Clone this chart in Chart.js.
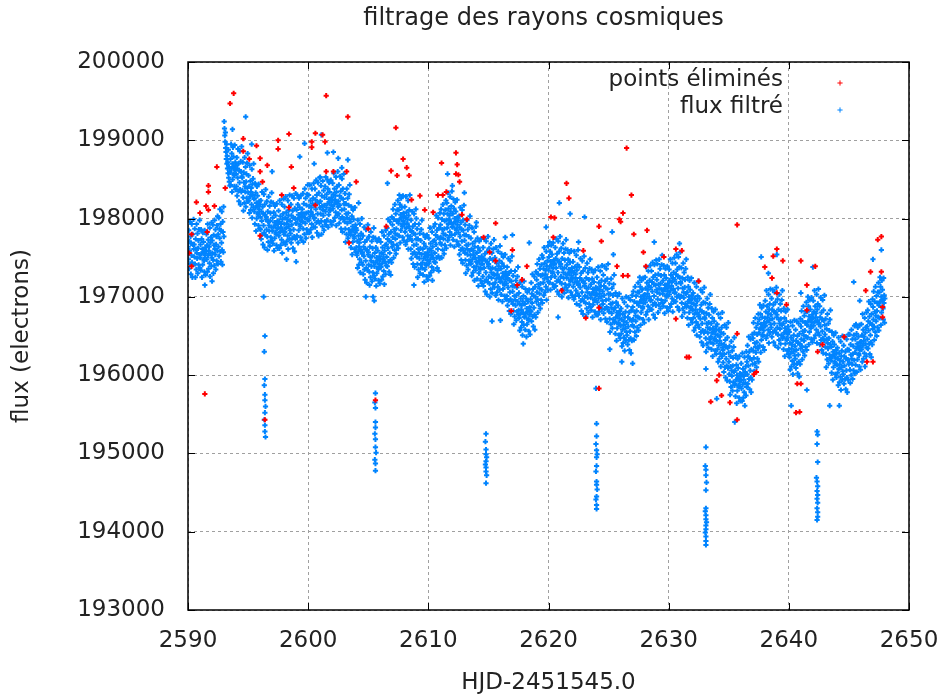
<!DOCTYPE html>
<html>
<head>
<meta charset="utf-8">
<title>filtrage des rayons cosmiques</title>
<script src="https://cdn.jsdelivr.net/npm/chart.js@4.4.1/dist/chart.umd.min.js"></script>
<style>
  html, body { margin: 0; padding: 0; background: #fff; }
  canvas { display: block; }
</style>
</head>
<body>
<canvas id="fluxChart" width="942" height="695"></canvas>
<script>
// axes: days (HJD-2451545.0) and flux in electrons
const xTicks = [2590, 2600, 2610, 2620, 2630, 2640, 2650];
const yTicks = [193000, 194000, 195000, 196000, 197000, 198000, 199000, 200000];

const seriesNames = ['points éliminés', 'flux filtré'];

// filtered flux, one row per half day: [start day, values in time order]
const fluxRows = [
  [2590.0, [197640,197480,197850,197360,197710,197590,197960,197420,197770,197290,197680,197530,197930,197440,197250,197800,197670,197410,197990,197610]],
  [2590.5, [197670,197510,197870,197420,197250,197740,197610,197350,197930,197560,197490,197810,197300,197620,197720,197410,197860,197540,197980,197370]],
  [2591.0, [197500,197670,197340,197860,197550,197740,197250,197610,197410,197820,197570,197700,197480,197460,197320,197850,197530,197630,197280,197590]],
  [2591.5, [197580,197800,197480,197660,197320,197930,197530,197730,197360,197590,197640,197430,197880,197260,197690,197550,197760,197390,197950,197500]],
  [2592.0, [197720,197560,197920,197470,197300,197790,197660,197400,197980,197610,197540,197860,197350,197670,197770,197460,197910,197590,198030,197420]],
  [2592.5, [197800,197640,198010,197520,197870,197750,198120,197580,197930,197450,197840,197690,198090,197600,197410,197960,197830,197570,198150,197770]],
  [2593.0, [199240,199150,199060,198980,199100,198900,198850,198760,198950,198700,198800,198640,198720,198580,198880,198520,198660,198470,198600,198420]],
  [2593.5, [198590,198760,198430,198950,198640,198830,198340,198700,198500,198910,198660,198790,198570,198550,198410,198940,198620,198720,198370,198680]],
  [2594.0, [198570,198410,198780,198290,198640,198520,198890,198350,198700,198220,198610,198460,198860,198370,198180,198730,198600,198340,198920,198540]],
  [2594.5, [198520,198360,198720,198270,198100,198590,198460,198200,198780,198410,198340,198660,198150,198470,198570,198260,198710,198390,198830,198220]],
  [2595.0, [198330,198550,198230,198410,198070,198680,198280,198480,198110,198340,198390,198180,198630,198010,198440,198300,198510,198140,198700,198250]],
  [2595.5, [198090,198260,197930,198450,198140,198330,197840,198200,198000,198410,198160,198290,198070,198050,197910,198440,198120,198220,197870,198180]],
  [2596.0, [198020,197860,198230,197740,198090,197970,198340,197800,198150,197670,198060,197910,198310,197820,197630,198180,198050,197790,198370,197990]],
  [2596.5, [198020,197860,198220,197770,197600,198090,197960,197700,198280,197910,197840,198160,197650,197970,198070,197760,198210,197890,198330,197720]],
  [2597.0, [197840,198010,197680,198200,197890,198080,197590,197950,197750,198160,197910,198040,197820,197800,197660,198190,197870,197970,197620,197930]],
  [2597.5, [197880,198100,197780,197960,197620,198230,197830,198030,197660,197890,197940,197730,198180,197560,197990,197850,198060,197690,198250,197800]],
  [2598.0, [197930,198150,197830,198010,197670,198280,197880,198080,197710,197940,197990,197780,198230,197610,198040,197900,198110,197740,198300,197850]],
  [2598.5, [197970,197810,198180,197690,198040,197920,198290,197750,198100,197620,198010,197860,198260,197770,197580,198130,198000,197740,198320,197940]],
  [2599.0, [197940,198110,197780,198300,197990,198180,197690,198050,197850,198260,198010,198140,197920,197900,197760,198290,197970,198070,197720,198030]],
  [2599.5, [198120,197960,198320,197870,197700,198190,198060,197800,198380,198010,197940,198260,197750,198070,198170,197860,198310,197990,198430,197820]],
  [2600.0, [198080,198300,197980,198160,197820,198430,198030,198230,197860,198090,198140,197930,198380,197760,198190,198050,198260,197890,198450,198000]],
  [2600.5, [198170,198010,198380,197890,198240,198120,198490,197950,198300,197820,198210,198060,198460,197970,197780,198330,198200,197940,198520,198140]],
  [2601.0, [198220,198060,198420,197970,197800,198290,198160,197900,198480,198110,198040,198360,197850,198170,198270,197960,198410,198090,198530,197920]],
  [2601.5, [198140,198310,197980,198500,198190,198380,197890,198250,198050,198460,198210,198340,198120,198100,197960,198490,198170,198270,197920,198230]],
  [2602.0, [198230,198450,198130,198310,197970,198580,198180,198380,198010,198240,198290,198080,198530,197910,198340,198200,198410,198040,198600,198150]],
  [2602.5, [198220,198060,198430,197940,198290,198170,198540,198000,198350,197870,198260,198110,198510,198020,197830,198380,198250,197990,198570,198190]],
  [2603.0, [198120,197960,198320,197870,197700,198190,198060,197800,198380,198010,197940,198260,197750,198070,198170,197860,198310,197990,198430,197820]],
  [2603.5, [197790,197960,197630,198150,197840,198030,197540,197900,197700,198110,197860,197990,197770,197750,197610,198140,197820,197920,197570,197880]],
  [2604.0, [197630,197850,197530,197710,197370,197980,197580,197780,197410,197640,197690,197480,197930,197310,197740,197600,197810,197440,198000,197550]],
  [2604.5, [197570,197410,197780,197290,197640,197520,197890,197350,197700,197220,197610,197460,197860,197370,197180,197730,197600,197340,197920,197540]],
  [2605.0, [197570,197410,197770,197320,197150,197640,197510,197250,197830,197460,197390,197710,197200,197520,197620,197310,197760,197440,197880,197270]],
  [2605.5, [197390,197560,197230,197750,197440,197630,197140,197500,197300,197710,197460,197590,197370,197350,197210,197740,197420,197520,197170,197480]],
  [2606.0, [197480,197700,197380,197560,197220,197830,197430,197630,197260,197490,197540,197330,197780,197160,197590,197450,197660,197290,197850,197400]],
  [2606.5, [197670,197510,197880,197390,197740,197620,197990,197450,197800,197320,197710,197560,197960,197470,197280,197830,197700,197440,198020,197640]],
  [2607.0, [197920,197760,198120,197670,197500,197990,197860,197600,198180,197810,197740,198060,197550,197870,197970,197660,198110,197790,198230,197620]],
  [2607.5, [197940,198110,197780,198300,197990,198180,197690,198050,197850,198260,198010,198140,197920,197900,197760,198290,197970,198070,197720,198030]],
  [2608.0, [197930,198150,197830,198010,197670,198280,197880,198080,197710,197940,197990,197780,198230,197610,198040,197900,198110,197740,198300,197850]],
  [2608.5, [197770,197610,197980,197490,197840,197720,198090,197550,197900,197420,197810,197660,198060,197570,197380,197930,197800,197540,198120,197740]],
  [2609.0, [197670,197510,197870,197420,197250,197740,197610,197350,197930,197560,197490,197810,197300,197620,197720,197410,197860,197540,197980,197370]],
  [2609.5, [197440,197610,197280,197800,197490,197680,197190,197550,197350,197760,197510,197640,197420,197400,197260,197790,197470,197570,197220,197530]],
  [2610.0, [197530,197750,197430,197610,197270,197880,197480,197680,197310,197540,197590,197380,197830,197210,197640,197500,197710,197340,197900,197450]],
  [2610.5, [197720,197560,197930,197440,197790,197670,198040,197500,197850,197370,197760,197610,198010,197520,197330,197880,197750,197490,198070,197690]],
  [2611.0, [197920,197760,198120,197670,197500,197990,197860,197600,198180,197810,197740,198060,197550,197870,197970,197660,198110,197790,198230,197620]],
  [2611.5, [197980,198200,197880,198060,197720,198330,197930,198130,197760,197990,198040,197830,198280,197660,198090,197950,198160,197790,198350,197900]],
  [2612.0, [197890,198060,197730,198250,197940,198130,197640,198000,197800,198210,197960,198090,197870,197850,197710,198240,197920,198020,197670,197980]],
  [2612.5, [197820,197660,198030,197540,197890,197770,198140,197600,197950,197470,197860,197710,198110,197620,197430,197980,197850,197590,198170,197790]],
  [2613.0, [197720,197560,197920,197470,197300,197790,197660,197400,197980,197610,197540,197860,197350,197670,197770,197460,197910,197590,198030,197420]],
  [2613.5, [197530,197750,197430,197610,197270,197880,197480,197680,197310,197540,197590,197380,197830,197210,197640,197500,197710,197340,197900,197450]],
  [2614.0, [197390,197560,197230,197750,197440,197630,197140,197500,197300,197710,197460,197590,197370,197350,197210,197740,197420,197520,197170,197480]],
  [2614.5, [197420,197260,197630,197140,197490,197370,197740,197200,197550,197070,197460,197310,197710,197220,197030,197580,197450,197190,197770,197390]],
  [2615.0, [197420,197260,197620,197170,197000,197490,197360,197100,197680,197310,197240,197560,197050,197370,197470,197160,197610,197290,197730,197120]],
  [2615.5, [197280,197500,197180,197360,197020,197630,197230,197430,197060,197290,197340,197130,197580,196960,197390,197250,197460,197090,197650,197200]],
  [2616.0, [197190,197360,197030,197550,197240,197430,196940,197300,197100,197510,197260,197390,197170,197150,197010,197540,197220,197320,196970,197280]],
  [2616.5, [197170,197010,197380,196890,197240,197120,197490,196950,197300,196820,197210,197060,197460,196970,196780,197330,197200,196940,197520,197140]],
  [2617.0, [197070,196910,197270,196820,196650,197140,197010,196750,197330,196960,196890,197210,196700,197020,197120,196810,197260,196940,197380,196770]],
  [2617.5, [196830,197050,196730,196910,196570,197180,196780,196980,196610,196840,196890,196680,197130,196510,196940,196800,197010,196640,197200,196750]],
  [2618.0, [196740,196910,196580,197100,196790,196980,196490,196850,196650,197060,196810,196940,196720,196700,196560,197090,196770,196870,196520,196830]],
  [2618.5, [196970,196810,197180,196690,197040,196920,197290,196750,197100,196620,197010,196860,197260,196770,196580,197130,197000,196740,197320,196940]],
  [2619.0, [197220,197060,197420,196970,196800,197290,197160,196900,197480,197110,197040,197360,196850,197170,197270,196960,197410,197090,197530,196920]],
  [2619.5, [197280,197500,197180,197360,197020,197630,197230,197430,197060,197290,197340,197130,197580,196960,197390,197250,197460,197090,197650,197200]],
  [2620.0, [197340,197510,197180,197700,197390,197580,197090,197450,197250,197660,197410,197540,197320,197300,197160,197690,197370,197470,197120,197430]],
  [2620.5, [197420,197260,197630,197140,197490,197370,197740,197200,197550,197070,197460,197310,197710,197220,197030,197580,197450,197190,197770,197390]],
  [2621.0, [197420,197260,197620,197170,197000,197490,197360,197100,197680,197310,197240,197560,197050,197370,197470,197160,197610,197290,197730,197120]],
  [2621.5, [197240,197410,197080,197600,197290,197480,196990,197350,197150,197560,197310,197440,197220,197200,197060,197590,197270,197370,197020,197330]],
  [2622.0, [197230,197450,197130,197310,196970,197580,197180,197380,197010,197240,197290,197080,197530,196910,197340,197200,197410,197040,197600,197150]],
  [2622.5, [197170,197010,197380,196890,197240,197120,197490,196950,197300,196820,197210,197060,197460,196970,196780,197330,197200,196940,197520,197140]],
  [2623.0, [197170,197010,197370,196920,196750,197240,197110,196850,197430,197060,196990,197310,196800,197120,197220,196910,197360,197040,197480,196870]],
  [2623.5, [196990,197160,196830,197350,197040,197230,196740,197100,196900,197310,197060,197190,196970,196950,196810,197340,197020,197120,196770,197080]],
  [2624.0, [197030,197250,196930,197110,196770,197380,196980,197180,196810,197040,197090,196880,197330,196710,197140,197000,197210,196840,197400,196950]],
  [2624.5, [197070,196910,197280,196790,197140,197020,197390,196850,197200,196720,197110,196960,197360,196870,196680,197230,197100,196840,197420,197040]],
  [2625.0, [196970,196810,197170,196720,196550,197040,196910,196650,197230,196860,196790,197110,196600,196920,197020,196710,197160,196840,197280,196670]],
  [2625.5, [196690,196860,196530,197050,196740,196930,196440,196800,196600,197010,196760,196890,196670,196650,196510,197040,196720,196820,196470,196780]],
  [2626.0, [196630,196850,196530,196710,196370,196980,196580,196780,196410,196640,196690,196480,196930,196310,196740,196600,196810,196440,197000,196550]],
  [2626.5, [196670,196510,196880,196390,196740,196620,196990,196450,196800,196320,196710,196560,196960,196470,196280,196830,196700,196440,197020,196640]],
  [2627.0, [196870,196710,197070,196620,196450,196940,196810,196550,197130,196760,196690,197010,196500,196820,196920,196610,197060,196740,197180,196570]],
  [2627.5, [196890,197060,196730,197250,196940,197130,196640,197000,196800,197210,196960,197090,196870,196850,196710,197240,196920,197020,196670,196980]],
  [2628.0, [197030,197250,196930,197110,196770,197380,196980,197180,196810,197040,197090,196880,197330,196710,197140,197000,197210,196840,197400,196950]],
  [2628.5, [197120,196960,197330,196840,197190,197070,197440,196900,197250,196770,197160,197010,197410,196920,196730,197280,197150,196890,197470,197090]],
  [2629.0, [197220,197060,197420,196970,196800,197290,197160,196900,197480,197110,197040,197360,196850,197170,197270,196960,197410,197090,197530,196920]],
  [2629.5, [197040,197210,196880,197400,197090,197280,196790,197150,196950,197360,197110,197240,197020,197000,196860,197390,197070,197170,196820,197130]],
  [2630.0, [197130,197350,197030,197210,196870,197480,197080,197280,196910,197140,197190,196980,197430,196810,197240,197100,197310,196940,197500,197050]],
  [2630.5, [197220,197060,197430,196940,197290,197170,197540,197000,197350,196870,197260,197110,197510,197020,196830,197380,197250,196990,197570,197190]],
  [2631.0, [197170,197010,197370,196920,196750,197240,197110,196850,197430,197060,196990,197310,196800,197120,197220,196910,197360,197040,197480,196870]],
  [2631.5, [196890,197060,196730,197250,196940,197130,196640,197000,196800,197210,196960,197090,196870,196850,196710,197240,196920,197020,196670,196980]],
  [2632.0, [196830,197050,196730,196910,196570,197180,196780,196980,196610,196840,196890,196680,197130,196510,196940,196800,197010,196640,197200,196750]],
  [2632.5, [196770,196610,196980,196490,196840,196720,197090,196550,196900,196420,196810,196660,197060,196570,196380,196930,196800,196540,197120,196740]],
  [2633.0, [196720,196560,196920,196470,196300,196790,196660,196400,196980,196610,196540,196860,196350,196670,196770,196460,196910,196590,197030,196420]],
  [2633.5, [196490,196660,196330,196850,196540,196730,196240,196600,196400,196810,196560,196690,196470,196450,196310,196840,196520,196620,196270,196580]],
  [2634.0, [196430,196650,196330,196510,196170,196780,196380,196580,196210,196440,196490,196280,196730,196110,196540,196400,196610,196240,196800,196350]],
  [2634.5, [196320,196160,196530,196040,196390,196270,196640,196100,196450,195970,196360,196210,196610,196120,195930,196480,196350,196090,196670,196290]],
  [2635.0, [196170,196010,196370,195920,195750,196240,196110,195850,196430,196060,195990,196310,195800,196120,196220,195910,196360,196040,196480,195870]],
  [2635.5, [195890,196060,195730,196250,195940,196130,195640,196000,195800,196210,195960,196090,195870,195850,195710,196240,195920,196020,195670,195980]],
  [2636.0, [195930,196150,195830,196010,195670,196280,195880,196080,195710,195940,195990,195780,196230,195610,196040,195900,196110,195740,196300,195850]],
  [2636.5, [196170,196010,196380,195890,196240,196120,196490,195950,196300,195820,196210,196060,196460,195970,195780,196330,196200,195940,196520,196140]],
  [2637.0, [196470,196310,196670,196220,196050,196540,196410,196150,196730,196360,196290,196610,196100,196420,196520,196210,196660,196340,196780,196170]],
  [2637.5, [196540,196710,196380,196900,196590,196780,196290,196650,196450,196860,196610,196740,196520,196500,196360,196890,196570,196670,196320,196630]],
  [2638.0, [196730,196950,196630,196810,196470,197080,196680,196880,196510,196740,196790,196580,197030,196410,196840,196700,196910,196540,197100,196650]],
  [2638.5, [196770,196610,196980,196490,196840,196720,197090,196550,196900,196420,196810,196660,197060,196570,196380,196930,196800,196540,197120,196740]],
  [2639.0, [196770,196610,196970,196520,196350,196840,196710,196450,197030,196660,196590,196910,196400,196720,196820,196510,196960,196640,197080,196470]],
  [2639.5, [196490,196660,196330,196850,196540,196730,196240,196600,196400,196810,196560,196690,196470,196450,196310,196840,196520,196620,196270,196580]],
  [2640.0, [196330,196550,196230,196410,196070,196680,196280,196480,196110,196340,196390,196180,196630,196010,196440,196300,196510,196140,196700,196250]],
  [2640.5, [196370,196210,196580,196090,196440,196320,196690,196150,196500,196020,196410,196260,196660,196170,195980,196530,196400,196140,196720,196340]],
  [2641.0, [196620,196460,196820,196370,196200,196690,196560,196300,196880,196510,196440,196760,196250,196570,196670,196360,196810,196490,196930,196320]],
  [2641.5, [196640,196810,196480,197000,196690,196880,196390,196750,196550,196960,196710,196840,196620,196600,196460,196990,196670,196770,196420,196730]],
  [2642.0, [196730,196950,196630,196810,196470,197080,196680,196880,196510,196740,196790,196580,197030,196410,196840,196700,196910,196540,197100,196650]],
  [2642.5, [196670,196510,196880,196390,196740,196620,196990,196450,196800,196320,196710,196560,196960,196470,196280,196830,196700,196440,197020,196640]],
  [2643.0, [196520,196360,196720,196270,196100,196590,196460,196200,196780,196410,196340,196660,196150,196470,196570,196260,196710,196390,196830,196220]],
  [2643.5, [196190,196360,196030,196550,196240,196430,195940,196300,196100,196510,196260,196390,196170,196150,196010,196540,196220,196320,195970,196280]],
  [2644.0, [196130,196350,196030,196210,195870,196480,196080,196280,195910,196140,196190,195980,196430,195810,196240,196100,196310,195940,196500,196050]],
  [2644.5, [196170,196010,196380,195890,196240,196120,196490,195950,196300,195820,196210,196060,196460,195970,195780,196330,196200,195940,196520,196140]],
  [2645.0, [196320,196160,196520,196070,195900,196390,196260,196000,196580,196210,196140,196460,195950,196270,196370,196060,196510,196190,196630,196020]],
  [2645.5, [196290,196460,196130,196650,196340,196530,196040,196400,196200,196610,196360,196490,196270,196250,196110,196640,196320,196420,196070,196380]],
  [2646.0, [196430,196650,196330,196510,196170,196780,196380,196580,196210,196440,196490,196280,196730,196110,196540,196400,196610,196240,196800,196350]],
  [2646.5, [196620,196460,196830,196340,196690,196570,196940,196400,196750,196270,196660,196510,196910,196420,196230,196780,196650,196390,196970,196590]],
  [2647.0, [196870,196710,197070,196620,196450,196940,196810,196550,197130,196760,196690,197010,196500,196820,196920,196610,197060,196740,197180,196570]],
  [2647.5, [196890,197060,196730,197250,196940,197130,196640,197000,196800,197210,196960,197090,196870,196850,196710,197240,196920,197020,196670,196980]]
];

// short drops of the filtered flux, every ~9 days
const dipPoints = [
  [2596.3, 197000], [2596.4, 196500], [2596.35, 196300], [2596.4, 195950], [2596.35, 195870],
  [2596.4, 195750], [2596.4, 195680], [2596.45, 195600], [2596.4, 195520], [2596.35, 195430],
  [2596.4, 195360], [2596.4, 195280], [2596.45, 195210],
  [2605.6, 195770], [2605.55, 195650], [2605.6, 195580], [2605.6, 195400], [2605.6, 195330],
  [2605.55, 195250], [2605.6, 195180], [2605.6, 195080], [2605.65, 195010], [2605.55, 194920],
  [2605.6, 194870], [2605.6, 194780], [2605.5, 196950], [2605.4, 197000],
  [2614.8, 195250], [2614.75, 195150], [2614.8, 195050], [2614.8, 194990], [2614.85, 194950],
  [2614.8, 194900], [2614.75, 194860], [2614.8, 194820], [2614.8, 194770], [2614.85, 194720],
  [2614.8, 194620],
  [2623.95, 195830], [2624.0, 195380], [2624.0, 195220], [2623.95, 195120], [2624.0, 195040],
  [2624.05, 194990], [2624.0, 194950], [2624.0, 194840], [2623.95, 194770], [2624.0, 194640],
  [2624.0, 194600], [2624.05, 194540], [2624.0, 194450], [2623.95, 194410], [2624.0, 194340],
  [2624.0, 194290],
  [2633.1, 195080], [2633.05, 194840], [2633.1, 194790], [2633.1, 194720], [2633.15, 194630],
  [2633.1, 194530], [2633.1, 194300], [2633.05, 194260], [2633.1, 194210], [2633.1, 194160],
  [2633.15, 194120], [2633.1, 194080], [2633.1, 194030], [2633.05, 193990], [2633.1, 193940],
  [2633.1, 193880], [2633.1, 193830],
  [2642.35, 195280], [2642.4, 195240], [2642.35, 195120], [2642.4, 194890], [2642.3, 194690],
  [2642.35, 194640], [2642.4, 194580], [2642.35, 194520], [2642.4, 194470], [2642.35, 194420],
  [2642.4, 194370], [2642.35, 194300], [2642.4, 194250], [2642.4, 194190], [2642.35, 194150]
];

// filtered points lying off the main band
const strayPoints = [
  [2594.8, 199300], [2601.1, 199070], [2593.7, 199140], [2599.7, 198960], [2599.3, 198790],
  [2601.6, 198840], [2602.1, 198850], [2602.5, 198770], [2603.3, 198750], [2601.0, 198530],
  [2598.2, 197480], [2606.6, 198450], [2611.6, 198570], [2612.0, 198420], [2613.0, 198330],
  [2616.4, 197760], [2617.0, 197790], [2618.4, 197690], [2615.3, 196690], [2617.9, 196400],
  [2619.8, 197890], [2620.9, 198200], [2621.8, 198060], [2623.0, 198020], [2625.3, 197830],
  [2625.4, 197540], [2630.9, 197680], [2620.8, 196740], [2625.1, 196330], [2626.1, 196170],
  [2633.1, 196080], [2637.7, 197510], [2639.0, 197540], [2642.0, 197380], [2645.4, 197190],
  [2647.0, 197480], [2647.7, 197600], [2640.2, 195610], [2641.5, 195810], [2643.4, 195610],
  [2644.2, 195610], [2635.5, 195400], [2591.4, 197150], [2592.0, 197200], [2600.5, 198700],
  [2602.8, 198650], [2604.2, 198200], [2597.0, 198600], [2595.3, 198950], [2609.0, 198000],
  [2614.0, 197950], [2622.5, 197700], [2628.8, 197700], [2638.3, 197300], [2641.0, 197050],
  [2645.9, 196950], [2634.0, 195700], [2627.0, 196150], [2616.0, 196700], [2608.8, 197150],
  [2604.8, 197000], [2599.0, 197450]
];

// points removed by the cosmic ray filter
const rejectedPoints = [
  [2591.4, 195760], [2593.8, 199600], [2593.5, 199470], [2601.5, 199570], [2603.3, 199300],
  [2607.3, 199160], [2600.6, 199090], [2600.3, 198980], [2600.3, 198910], [2601.4, 198980],
  [2601.2, 199070], [2598.4, 199080], [2597.5, 199000], [2597.5, 198890], [2594.6, 199020],
  [2595.7, 198930], [2596.0, 198770], [2595.1, 198760], [2596.6, 198680], [2596.0, 198600],
  [2596.2, 198470], [2594.6, 198860], [2592.4, 198660], [2593.1, 198390], [2598.6, 198660],
  [2598.8, 198390], [2597.8, 198300], [2598.4, 198140], [2601.5, 198600], [2602.1, 198600],
  [2603.2, 198600], [2604.0, 198470], [2605.0, 197870], [2603.4, 197690], [2600.6, 198170],
  [2591.7, 198420], [2591.7, 198340], [2590.7, 198210], [2591.0, 198070], [2591.5, 198160],
  [2592.2, 198160], [2591.7, 198110], [2591.6, 197830], [2590.3, 197800], [2590.1, 197560],
  [2590.3, 197390], [2596.0, 197780], [2607.9, 198760], [2608.2, 198650], [2606.9, 198610],
  [2607.4, 198550], [2608.6, 198240], [2609.3, 198290], [2609.7, 198110], [2606.5, 197900],
  [2611.1, 198710], [2612.4, 198690], [2608.4, 198550], [2612.5, 198560], [2612.6, 198470],
  [2612.3, 198570], [2610.4, 198080], [2610.8, 198300], [2611.2, 198300], [2611.5, 198340],
  [2612.8, 198050], [2613.2, 197990], [2614.6, 197760], [2615.6, 197940], [2615.1, 197570],
  [2615.6, 197460], [2617.0, 197600], [2618.2, 197390], [2617.8, 197220], [2617.4, 197150],
  [2616.9, 196820], [2620.2, 198020], [2620.5, 198010], [2620.4, 197760], [2612.3, 198840],
  [2621.7, 198260], [2621.5, 198450], [2626.9, 198300], [2626.2, 198070], [2626.0, 197960],
  [2625.9, 197990], [2624.2, 197900], [2624.4, 197710], [2627.1, 197800], [2628.2, 197850],
  [2622.9, 197590], [2627.9, 197570], [2625.7, 197390], [2628.1, 197390], [2626.2, 197270],
  [2626.6, 197270], [2629.6, 197510], [2630.6, 197610], [2631.1, 197590], [2632.5, 197200],
  [2621.1, 197080], [2624.2, 196860], [2623.1, 196730], [2630.6, 196720], [2631.5, 196230],
  [2631.7, 196230], [2635.7, 196530], [2634.2, 196000], [2634.0, 195930], [2624.2, 195830],
  [2635.7, 197920], [2626.5, 198900], [2639.0, 197610], [2638.7, 197520], [2639.5, 197460],
  [2638.0, 197380], [2641.0, 197460], [2642.2, 197390], [2641.5, 197150], [2638.6, 197240],
  [2639.0, 197050], [2639.8, 196900], [2641.5, 196830], [2644.6, 196490], [2642.8, 196390],
  [2642.4, 196300], [2646.5, 196170], [2637.3, 196040], [2637.1, 196010], [2640.7, 195890],
  [2640.6, 195520], [2635.7, 195430], [2647.4, 197730], [2647.7, 197770], [2646.8, 197320],
  [2647.7, 197320], [2646.4, 197080], [2647.8, 196870], [2647.8, 196740], [2633.5, 195660],
  [2634.4, 195740], [2635.1, 195650], [2640.9, 195530], [2641.0, 195890], [2647.0, 196170],
  [2605.6, 195680], [2596.4, 195430]
];

// spread each half-day row evenly over its half day
const filtered = [];
fluxRows.forEach(([day, values]) => {
  const step = 0.5 / values.length;
  values.forEach((f, k) => filtered.push({ x: day + (k + 0.5) * step, y: f }));
});
dipPoints.concat(strayPoints).forEach(([x, y]) => filtered.push({ x, y }));
const rejected = rejectedPoints.map(([x, y]) => ({ x, y }));

const textColor = '#222';
const fontFamily = '"DejaVu Sans", sans-serif';

// gnuplot-like frame: solid border with ticks pointing inward on all four sides
const frame = {
  id: 'frame',
  afterDatasetsDraw(chart) {
    const { ctx, chartArea: a, scales } = chart;
    const len = 7;
    ctx.save();
    ctx.strokeStyle = '#000';
    ctx.lineWidth = 1;
    ctx.beginPath();
    xTicks.forEach(v => {
      const px = Math.round(scales.x.getPixelForValue(v)) + 0.5;
      ctx.moveTo(px, a.bottom); ctx.lineTo(px, a.bottom - len);
      ctx.moveTo(px, a.top); ctx.lineTo(px, a.top + len);
    });
    yTicks.forEach(v => {
      const py = Math.round(scales.y.getPixelForValue(v)) + 0.5;
      ctx.moveTo(a.left, py); ctx.lineTo(a.left + len, py);
      ctx.moveTo(a.right, py); ctx.lineTo(a.right - len, py);
    });
    ctx.stroke();
    ctx.lineWidth = 1.5;
    ctx.strokeRect(a.left, a.top, a.right - a.left, a.bottom - a.top);
    ctx.restore();
  }
};

// chart title and the key in the upper right corner
const titleAndKey = {
  id: 'titleAndKey',
  afterDraw(chart) {
    const { ctx, chartArea: a } = chart;
    ctx.save();
    ctx.fillStyle = textColor;
    ctx.font = '24px ' + fontFamily;
    ctx.textAlign = 'center';
    ctx.textBaseline = 'middle';
    ctx.fillText('filtrage des rayons cosmiques', (a.left + a.right) / 2 - 5, 19);

    ctx.font = '23px ' + fontFamily;
    ctx.textAlign = 'right';
    chart.data.datasets.forEach((ds, i) => {
      const y = 80 + i * 27;
      ctx.fillStyle = textColor;
      ctx.fillText(ds.label, 783, y);
      ctx.strokeStyle = ds.borderColor;
      ctx.fillStyle = ds.backgroundColor;
      Chart.helpers.drawPoint(ctx, {
        pointStyle: ds.pointStyle, radius: ds.pointRadius, borderWidth: ds.borderWidth, rotation: 0
      }, 840, y + 3);
    });
    ctx.restore();
  }
};

const tickFont = { family: fontFamily, size: 23 };

new Chart(document.getElementById('fluxChart'), {
  type: 'scatter',
  data: {
    datasets: [
      {
        label: seriesNames[0],
        data: rejected,
        pointStyle: 'cross',
        pointRadius: 2.6,
        borderWidth: 2,
        borderColor: 'rgb(255, 0, 0)',
        backgroundColor: 'rgb(255, 0, 0)'
      },
      {
        label: seriesNames[1],
        data: filtered,
        pointStyle: 'cross',
        pointRadius: 2.6,
        borderWidth: 2,
        borderColor: 'rgb(0, 132, 255)',
        backgroundColor: 'rgb(0, 132, 255)'
      }
    ]
  },
  options: {
    responsive: false,
    animation: false,
    devicePixelRatio: 1,
    events: [],
    layout: { padding: { top: 62, right: 33, left: 0, bottom: 0 } },
    plugins: {
      legend: { display: false },
      tooltip: { enabled: false }
    },
    scales: {
      x: {
        type: 'linear',
        min: 2590,
        max: 2650,
        afterBuildTicks: scale => { scale.ticks = xTicks.map(value => ({ value })); },
        afterFit: scale => {
          scale.height = 85;
          scale.paddingLeft = 0;
          scale.paddingRight = 0;
        },
        grid: { color: '#a0a0a0', lineWidth: 1, drawTicks: false },
        border: { display: false, dash: [3, 3] },
        ticks: { padding: 17, color: textColor, font: tickFont, callback: v => String(v) },
        title: {
          display: true,
          text: 'HJD-2451545.0',
          color: textColor,
          font: { family: fontFamily, size: 23, lineHeight: 1 },
          padding: { top: 0, bottom: 0 }
        }
      },
      y: {
        type: 'linear',
        min: 193000,
        max: 200000,
        afterBuildTicks: scale => { scale.ticks = yTicks.map(value => ({ value })); },
        afterFit: scale => {
          scale.width = 188;
          scale.paddingTop = 0;
          scale.paddingBottom = 0;
        },
        grid: { color: '#a0a0a0', lineWidth: 1, drawTicks: false },
        border: { display: false, dash: [3, 3] },
        ticks: { padding: 23, color: textColor, font: tickFont, callback: v => String(v) },
        title: {
          display: true,
          text: 'flux (electrons)',
          color: textColor,
          font: tickFont,
          padding: { top: 8, bottom: 0 }
        }
      }
    }
  },
  plugins: [frame, titleAndKey]
});
</script>
</body>
</html>
